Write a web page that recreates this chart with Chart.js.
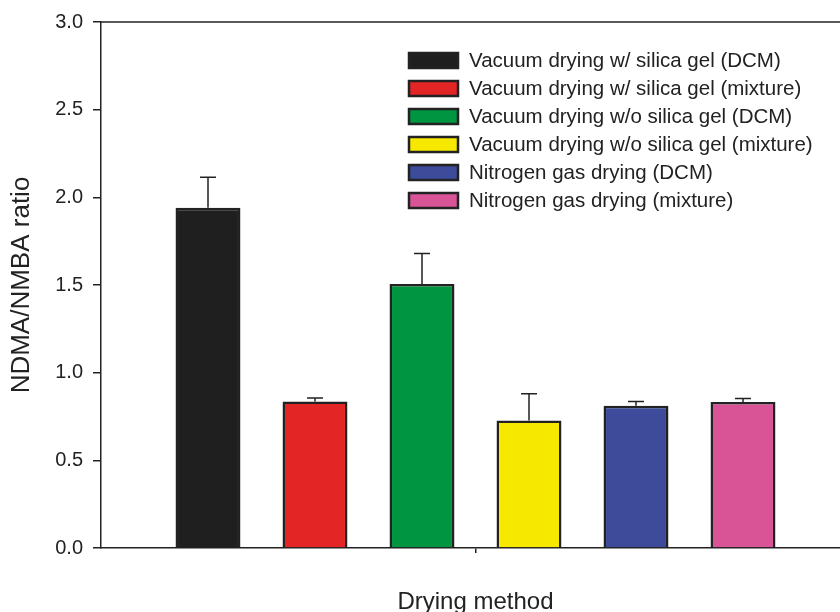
<!DOCTYPE html>
<html>
<head>
<meta charset="utf-8">
<script src="https://cdn.jsdelivr.net/npm/chart.js@4"></script>
<style>
  html, body { margin: 0; padding: 0; background: #fff; }
  #wrap { width: 840px; height: 612px; overflow: hidden; position: relative; }
  #box { width: 860px; height: 620px; position: absolute; left: 0; top: 0; }
</style>
</head>
<body>
<div id="wrap"><div id="box"><canvas id="dryingChart"></canvas></div></div>
<script>
const seriesNames = [
  "Vacuum drying w/ silica gel (DCM)",
  "Vacuum drying w/ silica gel (mixture)",
  "Vacuum drying w/o silica gel (DCM)",
  "Vacuum drying w/o silica gel (mixture)",
  "Nitrogen gas drying (DCM)",
  "Nitrogen gas drying (mixture)"
];
const ratioValues = [1.94, 0.835, 1.505, 0.727, 0.812, 0.833];
const ratioErrors = [0.175, 0.02, 0.175, 0.153, 0.023, 0.02];
const barColors = ["#1f1f1f", "#e32526", "#009540", "#f7e800", "#3d4b9a", "#d85497"];
const yTicks = [0, 0.5, 1.0, 1.5, 2.0, 2.5, 3.0];

const ink = "#222";
const font = "'Liberation Sans', Arial, sans-serif";

// error bars (upper only), drawn through the y scale
const errorBars = {
  id: "errorBars",
  afterDatasetsDraw(chart) {
    const ctx = chart.ctx;
    const y = chart.scales.y;
    ctx.save();
    ctx.strokeStyle = ink;
    ctx.lineWidth = 1.5;
    chart.data.datasets.forEach(function (ds, i) {
      const bar = chart.getDatasetMeta(i).data[0];
      const top = y.getPixelForValue(ratioValues[i] + ratioErrors[i]);
      ctx.beginPath();
      ctx.moveTo(bar.x, bar.y);
      ctx.lineTo(bar.x, top);
      ctx.moveTo(bar.x - 8, top);
      ctx.lineTo(bar.x + 8, top);
      ctx.stroke();
    });
    ctx.restore();
  }
};

// top frame line + legend inside the plot
const frameAndLegend = {
  id: "frameAndLegend",
  afterDraw(chart) {
    const ctx = chart.ctx;
    const a = chart.chartArea;
    ctx.save();
    ctx.strokeStyle = ink;
    ctx.lineWidth = 1.5;
    ctx.beginPath();
    ctx.moveTo(a.left, a.top);
    ctx.lineTo(a.right, a.top);
    ctx.stroke();

    ctx.font = "20.5px " + font;
    ctx.textBaseline = "middle";
    chart.data.datasets.forEach(function (ds, i) {
      const by = 53 + i * 28;
      ctx.fillStyle = ds.backgroundColor;
      ctx.fillRect(409, by, 49, 15);
      ctx.lineWidth = 2.5;
      ctx.strokeStyle = ink;
      ctx.strokeRect(409, by, 49, 15);
      ctx.fillStyle = ink;
      ctx.fillText(ds.label, 469, by + 8);
    });
    ctx.restore();
  }
};

const datasets = seriesNames.map(function (name, i) {
  return {
    label: name,
    data: [ratioValues[i]],
    backgroundColor: barColors[i],
    borderColor: ink,
    borderWidth: 2.5,
    categoryPercentage: 6 / 7,
    barPercentage: 0.607
  };
});

new Chart(document.getElementById("dryingChart"), {
  type: "bar",
  data: { labels: ["Drying method"], datasets: datasets },
  plugins: [errorBars, frameAndLegend],
  options: {
    responsive: true,
    maintainAspectRatio: false,
    animation: false,
    layout: { padding: { top: 21, right: 10, left: 0, bottom: 0 } },
    plugins: { legend: { display: false }, tooltip: { enabled: false } },
    scales: {
      x: {
        grid: { display: true, drawOnChartArea: false, offset: false, tickLength: 5, color: ink, lineWidth: 1.5 },
        border: { color: ink, width: 1.5 },
        ticks: { display: false },
        title: { display: true, text: "Drying method", color: ink, font: { family: font, size: 24 }, padding: { top: 0, bottom: 3 } },
        afterFit(scale) { scale.height = 72; }
      },
      y: {
        min: 0,
        max: 3,
        afterBuildTicks(scale) { scale.ticks = yTicks.map(function (v) { return { value: v }; }); },
        grid: { display: true, drawOnChartArea: false, tickLength: 8, color: ink, lineWidth: 1.5 },
        border: { color: ink, width: 1.5 },
        ticks: { color: ink, padding: 10, font: { family: font, size: 20 }, callback: function (v) { return Number(v).toFixed(1); } },
        title: { display: true, text: "NDMA/NMBA ratio", color: ink, font: { family: font, size: 26 }, padding: { top: 6, bottom: 0 } },
        afterFit(scale) { scale.width = 101; }
      }
    }
  }
});
</script>
</body>
</html>
